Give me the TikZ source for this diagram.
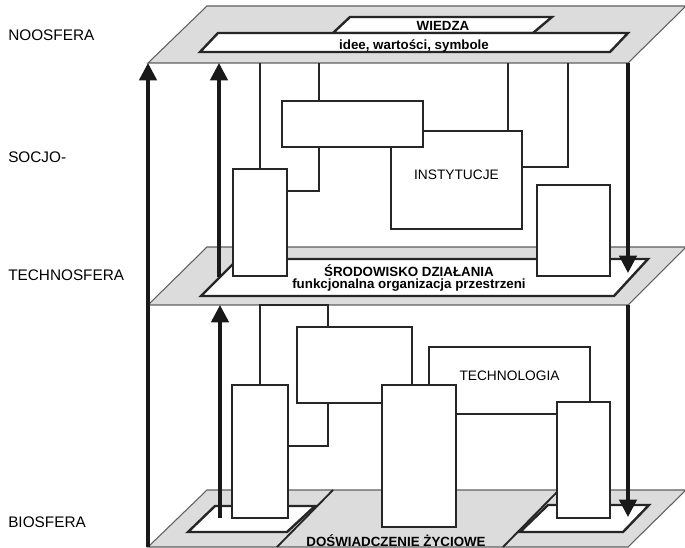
\documentclass[tikz,border=0pt]{standalone}
\usepackage{fontspec}
\setmainfont{Liberation Sans}
\usetikzlibrary{arrows.meta,fit}
\definecolor{planegray}{RGB}{220,220,220}
\definecolor{edgegray}{RGB}{95,95,95}

\begin{document}
\begin{tikzpicture}[x=0.75pt, y=-0.75pt,
  plane/.style = {fill=planegray, draw=edgegray, line width=0.8pt},
  inner/.style = {fill=white, draw=black!85, line width=1.8pt},
  box/.style = {draw=black!85, fill=white, line width=1.4pt, inner sep=0pt,
    font=\fontsize{10.3}{12}\selectfont},
  link/.style = {draw=black!85, line width=1.4pt},
  flow/.style = {draw=black!90, line width=2.6pt, -{Triangle[length=13pt,width=13pt]}},
  sphere/.style = {anchor=base west, inner sep=0pt, font=\fontsize{11.5}{13}\selectfont},
  tag/.style = {anchor=base, inner sep=0pt, font=\bfseries\fontsize{10}{10}\selectfont}
  ]
  \useasboundingbox (0,0) rectangle (685,548);

  \coordinate (nL) at (148,63);  \coordinate (nR) at (628,63);
  \coordinate (tL) at (148,305); \coordinate (tR) at (628,305);
  \coordinate (bL) at (148,547);

  % noosfera
  \draw[plane] (207,6) -- (686,6) -- (nR) -- (nL) -- cycle;
  \draw[inner] (350,17) -- (552,17) -- (533,33) -- (333,33) -- cycle;
  \draw[inner] (218,33) -- (628,33) -- (610,52) -- (200,52) -- cycle;
  \node[tag] (wiedza) at (443,31) {WIEDZA};
  \node[tag] (idee) at (414,50) {idee, wartości, symbole};

  % technosfera
  \draw[plane] (207,247) -- (686,247) -- (tR) -- (tL) -- cycle;
  \draw[inner] (238,259) -- (648,259) -- (614,296) -- (201,296) -- cycle;
  \node[tag] (srod) at (409,277) {ŚRODOWISKO DZIAŁANIA};
  \node[tag] (funk) at (409,289) {funkcjonalna organizacja przestrzeni};

  % biosfera
  \draw[plane] (207,490) -- (686,490) -- (628,547) -- (bL) -- cycle;
  \draw[link] (333,490) -- (277,547);
  \draw[link] (559,490) -- (503,547);
  \draw[inner] (188,532) -- (287,532) -- (315,506) -- (215,506) -- cycle;
  \draw[inner] (520,532) -- (623,532) -- (649,505) -- (548,505) -- cycle;
  \node[tag] (dosw) at (396,546) {DOŚWIADCZENIE ŻYCIOWE};

  % socjo-sfera
  \node[box, fit={(391,131) (522,229)}] (inst) {INSTYTUCJE};
  \node[box, fit={(282,101) (423,147)}] (wide) {};
  \node[box, fit={(233,169) (287,276)}] (tallL) {};
  \node[box, fit={(537,185) (610,276)}] (tallR) {};
  \coordinate (x1) at (319,191);
  \coordinate (x2) at (568,167);
  \coordinate (x3) at (508,100);
  \draw[link] (tallL.north) -- (tallL.north |- nL);
  \draw[link] (wide.north -| x1) -- (x1 |- nL);
  \draw[link] (wide.south -| x1) -- (x1) -- (x1 -| tallL.east);
  \draw[link] (inst.north -| x3) -- (x3 |- nL);
  \draw[link] (x2 -| inst.east) -- (x2) -- (x2 |- nL);

  % techno-sfera
  \node[box, fit={(297,327) (412,403)}] (mid) {};
  \node[box, fit={(429,347) (590,414)}] (tech) {TECHNOLOGIA};
  \node[box, fit={(232,385) (288,518)}] (lowL) {};
  \node[box, fit={(382,385) (456,527)}] (lowM) {};
  \node[box, fit={(557,402) (610,518)}] (lowR) {};
  \coordinate (y1) at (328,305);
  \coordinate (y2) at (328,446);
  \draw[link] (lowL.north) -- (lowL.north |- tL) -- (y1) -- (mid.north -| y1);
  \draw[link] (mid.south -| y2) -- (y2) -- (y2 -| lowL.east);

  % arrows
  \coordinate (a1) at (219,277);
  \coordinate (a2) at (220,518);
  \coordinate (a3) at (628,273);
  \coordinate (a4) at (628,517);
  \draw[flow] (bL) -- (nL);
  \draw[flow] (a1) -- (a1 |- nL);
  \draw[flow] (a2) -- (a2 |- tL);
  \draw[flow] (nR) -- (a3);
  \draw[flow] (tR) -- (a4);

  % spheres
  \node[sphere] (noo) at (8,41) {NOOSFERA};
  \node[sphere] (soc) at (8,163) {SOCJO-};
  \node[sphere] (tec) at (8,281) {TECHNOSFERA};
  \node[sphere] (bio) at (8,527) {BIOSFERA};
\end{tikzpicture}
\end{document}
